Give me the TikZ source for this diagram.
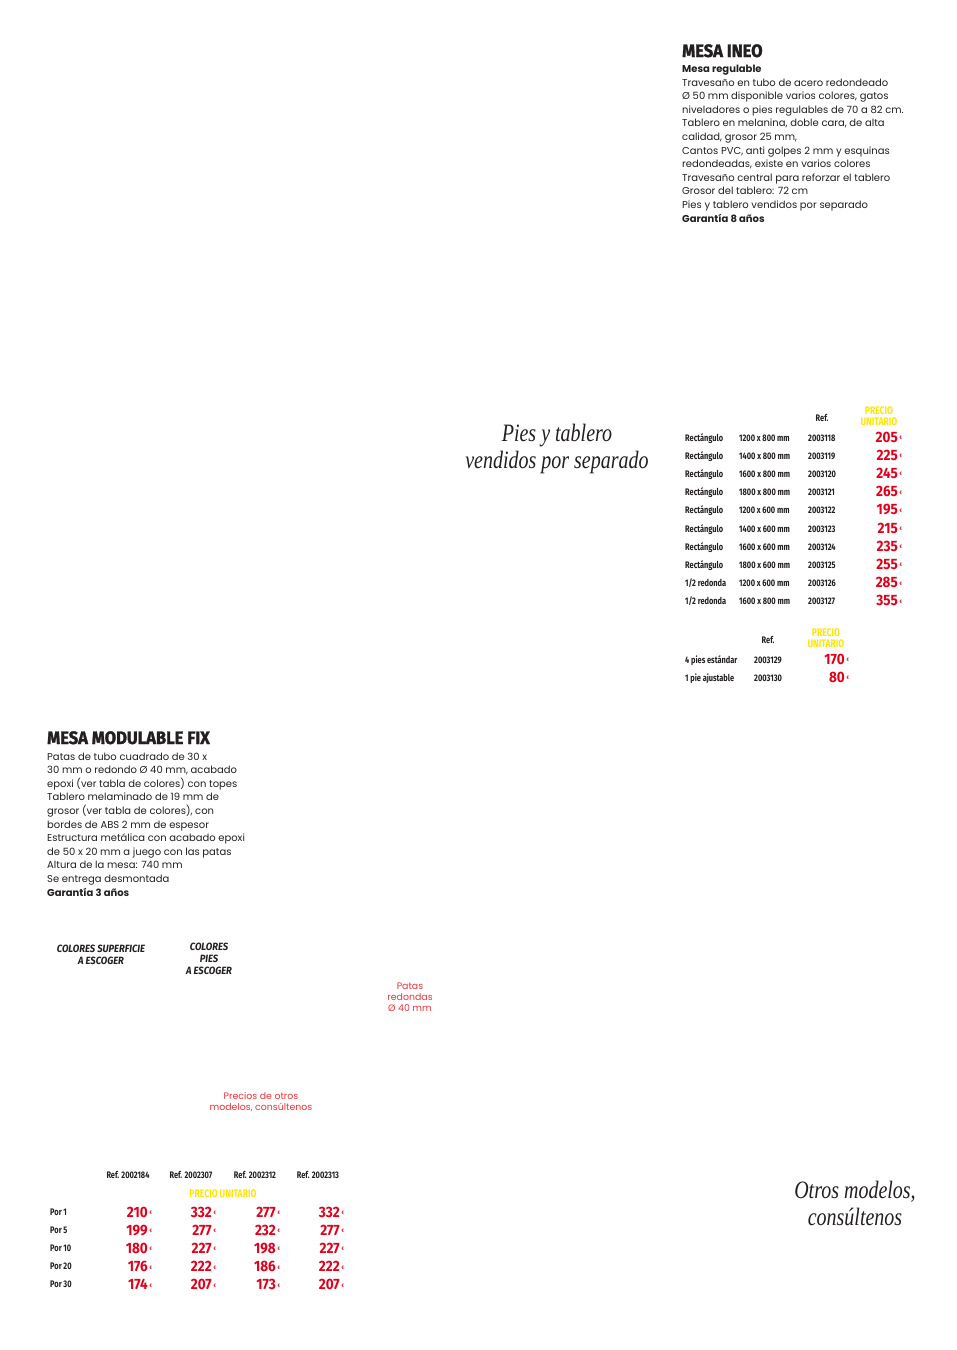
\documentclass[tikz,border=0pt]{standalone}
\usepackage{fontspec}
\setmainfont{Poppins}
\newfontfamily\condfont[FakeStretch=0.78]{Fira Sans}
\newfontfamily\widefont[FakeStretch=0.9]{Fira Sans}
\newfontfamily\titlefont[FakeStretch=0.92,FakeBold=1.5]{Fira Sans}
\newfontfamily\handfont[FakeStretch=0.8]{Liberation Serif}
\definecolor{ink}{HTML}{231F20}
\definecolor{pricered}{HTML}{E2001A}
\definecolor{headyellow}{HTML}{FFE500}
\definecolor{notered}{HTML}{E8343C}

\begin{document}
\begin{tikzpicture}[x=1pt,y=-1pt,
    title/.style={anchor=base west,inner sep=0pt,text=ink,font=\titlefont\bfseries\fontsize{18}{18}\selectfont},
    body/.style={anchor=base west,inner sep=0pt,align=left,text=ink,font=\fontsize{10}{13.6}\selectfont},
    cell/.style={anchor=base west,inner sep=0pt,text=ink,font=\condfont\bfseries\fontsize{9.5}{9.5}\selectfont},
    head/.style={anchor=base,inner sep=0pt,text=ink,font=\condfont\bfseries\fontsize{9.5}{9.5}\selectfont},
    unit/.style={inner sep=0pt,align=center,text=headyellow,font=\condfont\bfseries\fontsize{11}{11}\selectfont},
    price/.style={anchor=base east,inner sep=0pt,text=pricered,font=\widefont\bfseries\fontsize{15}{15}\selectfont},
    euro/.style={anchor=base west,inner sep=0pt,xshift=1.5pt,yshift=2.5pt,text=pricered,font=\condfont\bfseries\fontsize{5}{5}\selectfont},
    pick/.style={inner sep=0pt,align=center,text=ink,font=\widefont\bfseries\itshape\fontsize{10.5}{11.8}\selectfont},
    note/.style={inner sep=0pt,align=center,text=notered,font=\fontsize{9.4}{11}\selectfont},
    hand/.style={inner sep=0pt,align=center,text=ink,font=\handfont\itshape\fontsize{25}{27}\selectfont}
  ]
  \fill[white] (0,0) rectangle (957,1350);
  \useasboundingbox (0,0) rectangle (957,1350);

  % MESA INEO
  \node[title] (ineo) at (682,57) {MESA INEO};
  \node[body] (ineotext) at (682,222) {\textbf{Mesa regulable}\\
    Travesaño en tubo de acero redondeado\\
    Ø 50 mm disponible varios colores, gatos\\
    niveladores o pies regulables de 70 a 82 cm.\\
    Tablero en melanina, doble cara, de alta\\
    calidad, grosor 25 mm,\\
    Cantos PVC, anti golpes 2 mm y esquinas\\
    redondeadas, existe en varios colores\\
    Travesaño central para reforzar el tablero\\
    Grosor del tablero: 72 cm\\
    Pies y tablero vendidos por separado\\
    \textbf{Garantía 8 años}};

  \node[hand] (separado) at (557,449) {Pies y tablero\\vendidos por separado};

  % tableros
  \node[head] (refhead) at (822,421) {Ref.};
  \node[unit] (unithead) at (879,416) {PRECIO\\UNITARIO};
  \foreach \kind/\size/\ref/\eur [count=\i] in {
      Rectángulo/1200 x 800 mm/2003118/205,
      Rectángulo/1400 x 800 mm/2003119/225,
      Rectángulo/1600 x 800 mm/2003120/245,
      Rectángulo/1800 x 800 mm/2003121/265,
      Rectángulo/1200 x 600 mm/2003122/195,
      Rectángulo/1400 x 600 mm/2003123/215,
      Rectángulo/1600 x 600 mm/2003124/235,
      Rectángulo/1800 x 600 mm/2003125/255,
      {1/2 redonda}/1200 x 600 mm/2003126/285,
      {1/2 redonda}/1600 x 800 mm/2003127/355}{
    \node[cell] (kind\i) at (685,{441+(\i-1)*18.2}) {\kind};
    \node[cell] (size\i) at (739,{441+(\i-1)*18.2}) {\size};
    \node[cell] (ref\i) at (808,{441+(\i-1)*18.2}) {\ref};
    \node[price] (price\i) at (898,{442+(\i-1)*18.2}) {\eur};
    \node[euro] (eur\i) at (price\i.base east) {€};
  }

  % pies
  \node[head] (refhead2) at (768,643) {Ref.};
  \node[unit] (unithead2) at (826,638) {PRECIO\\UNITARIO};
  \foreach \kind/\ref/\eur [count=\i] in {
      4 pies estándar/2003129/170,
      1 pie ajustable/2003130/80}{
    \node[cell] (pies\i) at (685,{663+(\i-1)*18.2}) {\kind};
    \node[cell] (piesref\i) at (754,{663+(\i-1)*18.2}) {\ref};
    \node[price] (piesprice\i) at (845,{664+(\i-1)*18.2}) {\eur};
    \node[euro] (pieseur\i) at (piesprice\i.base east) {€};
  }

  % MESA MODULABLE FIX
  \node[title] (fix) at (47,744) {MESA MODULABLE FIX};
  \node[body] (fixtext) at (47,896) {Patas de tubo cuadrado de 30 x\\
    30 mm o redondo Ø 40 mm, acabado\\
    epoxi (ver tabla de colores) con topes\\
    Tablero melaminado de 19 mm de\\
    grosor (ver tabla de colores), con\\
    bordes de ABS 2 mm de espesor\\
    Estructura metálica con acabado epoxi\\
    de 50 x 20 mm a juego con las patas\\
    Altura de la mesa: 740 mm\\
    Se entrega desmontada\\
    \textbf{Garantía 3 años}};

  \node[pick] (superficie) at (101,955) {COLORES SUPERFICIE\\A ESCOGER};
  \node[pick] (piescolor) at (209,959) {COLORES\\PIES\\A ESCOGER};
  \node[note] (patas) at (410,997) {Patas\\redondas\\Ø 40 mm};
  \node[note] (otros) at (261,1102) {Precios de otros\\modelos, consúltenos};

  % precios por cantidad
  \foreach \ref/\x [count=\j] in {2002184/128,2002307/191,2002312/255,2002313/318}{
    \node[head] (colref\j) at (\x,1178) {Ref. \ref};
  }
  \node[unit] (unithead3) at (223,1194) {PRECIO UNITARIO};
  \foreach \qty/\pa/\pb/\pc/\pd [count=\i] in {
      1/210/332/277/332,
      5/199/277/232/277,
      10/180/227/198/227,
      20/176/222/186/222,
      30/174/207/173/207}{
    \node[cell] (por\i) at (50,{1215+(\i-1)*18.2}) {Por \qty};
    \foreach \p/\x [count=\j] in {\pa/148,\pb/212,\pc/276,\pd/340}{
      \node[price] (qp\i\j) at (\x,{1217+(\i-1)*18.2}) {\p};
      \node[euro] (qe\i\j) at (qp\i\j.base east) {€};
    }
  }

  \node[hand] (consultenos) at (855,1203) {Otros modelos,\\consúltenos};
\end{tikzpicture}
\end{document}
